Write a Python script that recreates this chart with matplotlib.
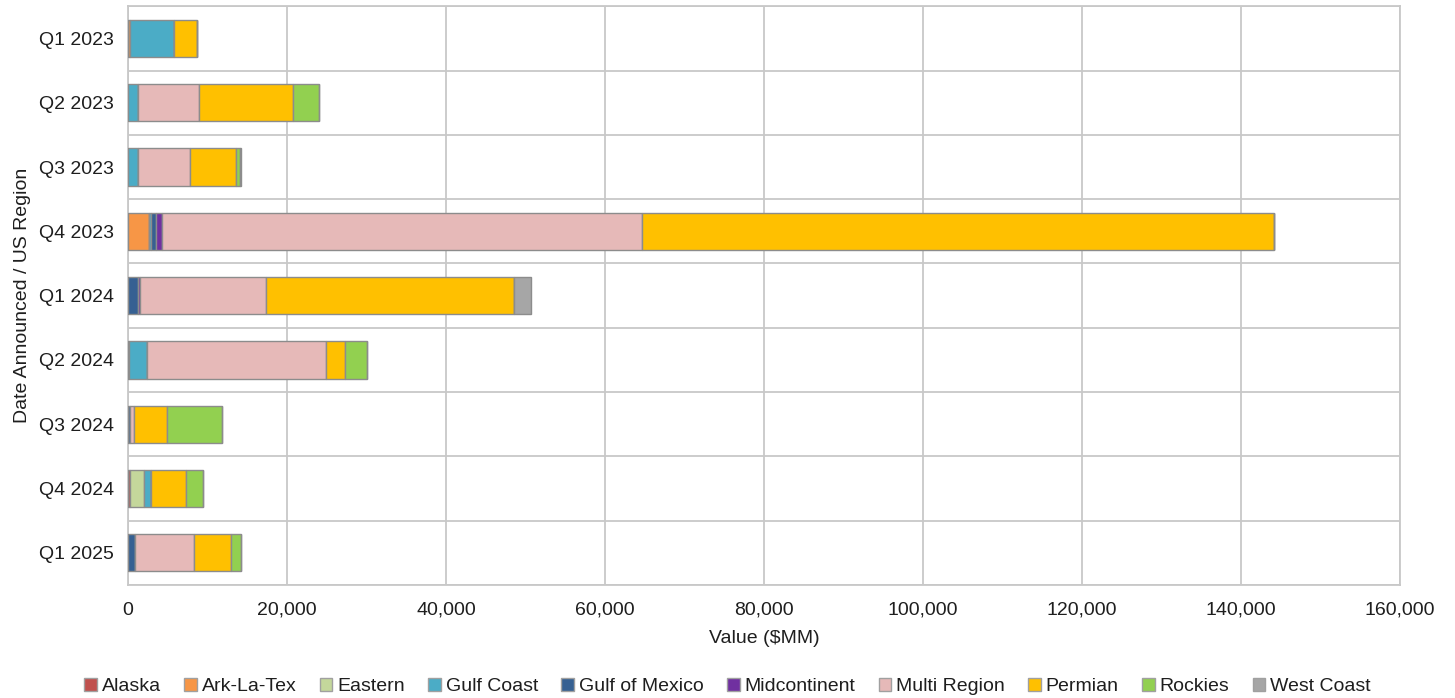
import numpy as np
import matplotlib
matplotlib.use('Agg')
import matplotlib.pyplot as plt
from matplotlib.patches import Patch

plt.rcParams['font.family'] = ['Liberation Sans', 'DejaVu Sans']

quarters = ['Q1 2023', 'Q2 2023', 'Q3 2023', 'Q4 2023', 'Q1 2024',
            'Q2 2024', 'Q3 2024', 'Q4 2024', 'Q1 2025']

regions = ['Alaska', 'Ark-La-Tex', 'Eastern', 'Gulf Coast', 'Gulf of Mexico',
           'Midcontinent', 'Multi Region', 'Permian', 'Rockies', 'West Coast']

colors = ['#C0504D', '#F79646', '#C4D79B', '#4BACC6', '#366092',
          '#7030A0', '#E6B9B8', '#FFC000', '#92D050', '#A6A6A6']

# values in $MM, one list per region, ordered like quarters
alaska        = [0, 0, 0, 0, 0, 0, 0, 200, 0]
ark_la_tex    = [300, 0, 0, 2680, 0, 150, 0, 0, 0]
eastern       = [0, 0, 0, 0, 0, 0, 0, 1800, 0]
gulf_coast    = [5450, 1220, 1300, 150, 0, 2220, 0, 920, 0]
gulf_mexico   = [0, 0, 0, 710, 1300, 0, 300, 0, 880]
midcontinent  = [0, 0, 0, 750, 250, 0, 0, 0, 0]
multi_region  = [0, 7710, 6450, 60380, 15850, 22600, 420, 0, 7420]
permian       = [2930, 11860, 5790, 79460, 31100, 2270, 4190, 4320, 4650]
rockies       = [0, 3200, 500, 0, 0, 2770, 6960, 2220, 1220]
west_coast    = [0, 0, 150, 0, 2260, 0, 0, 0, 0]

series = [alaska, ark_la_tex, eastern, gulf_coast, gulf_mexico,
          midcontinent, multi_region, permian, rockies, west_coast]

txt = '#1E1E1E'
fs = 14

fig = plt.figure(figsize=(14.55, 6.98), dpi=100)
ax = fig.add_axes([0.088, 0.162, 0.874, 0.829])

y = np.arange(len(quarters))
left = np.zeros(len(quarters))
for name, vals, c in zip(regions, series, colors):
    vals = np.array(vals, dtype=float)
    ax.barh(y, vals, left=left, height=0.58, color=c,
            edgecolor='#8C8C8C', linewidth=1.0, label=name, zorder=3)
    left += vals

ax.set_xlim(0, 160000)
ax.set_ylim(len(quarters) - 0.5, -0.5)
ax.set_yticks(y)
ax.set_yticklabels(quarters, fontsize=fs, color=txt)
ax.set_xticks(np.arange(0, 160001, 20000))
ax.set_xticklabels([f'{v:,}' for v in range(0, 160001, 20000)],
                   fontsize=fs, color=txt)
ax.set_yticks(np.arange(-0.5, len(quarters), 1), minor=True)
ax.tick_params(axis='both', which='both', length=0)
ax.tick_params(axis='y', pad=10)
ax.tick_params(axis='x', pad=12)

ax.grid(axis='x', which='major', color='#C8C8C8', linewidth=1.3, zorder=0)
ax.grid(axis='y', which='minor', color='#C8C8C8', linewidth=1.3, zorder=0)
for s in ax.spines.values():
    s.set_color('#C8C8C8')
    s.set_linewidth(1.3)

ax.set_xlabel('Value ($MM)', fontsize=fs, color=txt, labelpad=8)
ax.set_ylabel('Date Announced / US Region', fontsize=fs, color=txt, labelpad=6)

handles = [Patch(facecolor=c, edgecolor='#A0A0A0', label=n) for n, c in zip(regions, colors)]
fig.legend(handles=handles, loc='lower center', ncol=10, frameon=False,
           fontsize=fs, bbox_to_anchor=(0.5, -0.021), handlelength=0.65,
           handleheight=0.65, handletextpad=0.25, columnspacing=1.2,
           labelcolor=txt)

fig.savefig('out.png', dpi=100)
